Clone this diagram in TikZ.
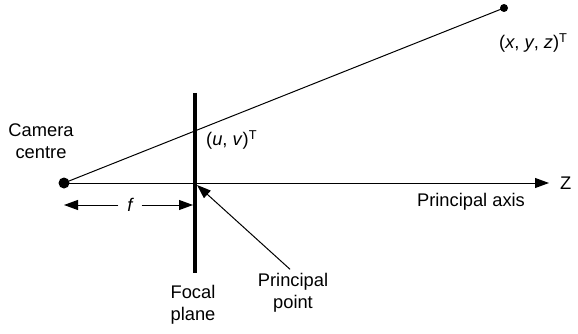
\documentclass[tikz,border=0pt]{standalone}
\usepackage{fontspec}
\setmainfont{Liberation Sans}
\usetikzlibrary{arrows.meta,positioning}

\begin{document}
\begin{tikzpicture}[x=1pt, y=-1pt,
    lbl/.style={font=\fontsize{18.3}{22}\selectfont, align=center, inner sep=0pt},
    ray/.style={line width=1pt},
    tip/.style={-{Triangle[length=14pt, width=10pt]}}]
    \useasboundingbox (0,0) rectangle (578,334);

    % Camera centre, world point and principal axis
    \coordinate (C) at (64,183);
    \coordinate (X) at (504,8);
    \coordinate (P) at (195,183);
    \coordinate (Zend) at (549,183);
    \draw[ray] (C) -- (X);
    \draw[ray, tip] (C) -- (Zend);
    \fill (C) circle (5.5pt);
    \fill (X) circle (4pt);

    % Focal plane
    \coordinate (Ftop) at (195,93);
    \coordinate (Fbot) at (195,273);
    \draw[line width=4.5pt] (Ftop) -- (Fbot);

    % Labels
    \node[lbl] (cam) at (41,141) {Camera\\centre};
    \node[lbl, anchor=west] (uv) at (206,140) {(\textit{u}, \textit{v})\textsuperscript{T}};
    \node[lbl, anchor=west] (xyz) at (499,43) {(\textit{x}, \textit{y}, \textit{z})\textsuperscript{T}};
    \node[lbl, anchor=west] (Z) at (560,183) {Z};
    \node[lbl] (axis) at (471,202) {Principal axis};
    \node[lbl] (fplane) at (193,305) {Focal\\plane};
    \node[lbl] (ppoint) at (293,293) {Principal\\point};

    % Focal length
    \node[lbl, font=\fontsize{18.3}{22}\selectfont\itshape, inner xsep=9pt] (f) at (130,205) {f};
    \coordinate (fL) at (64,205);
    \coordinate (fR) at (193,205);
    \draw[ray, tip] (f.west) -- (fL);
    \draw[ray, tip] (f.east) -- (fR);

    % Principal point pointer
    \draw[ray, tip] (ppoint.north) ++(-3,-4) -- ([xshift=2pt, yshift=-2pt]P);
\end{tikzpicture}
\end{document}
